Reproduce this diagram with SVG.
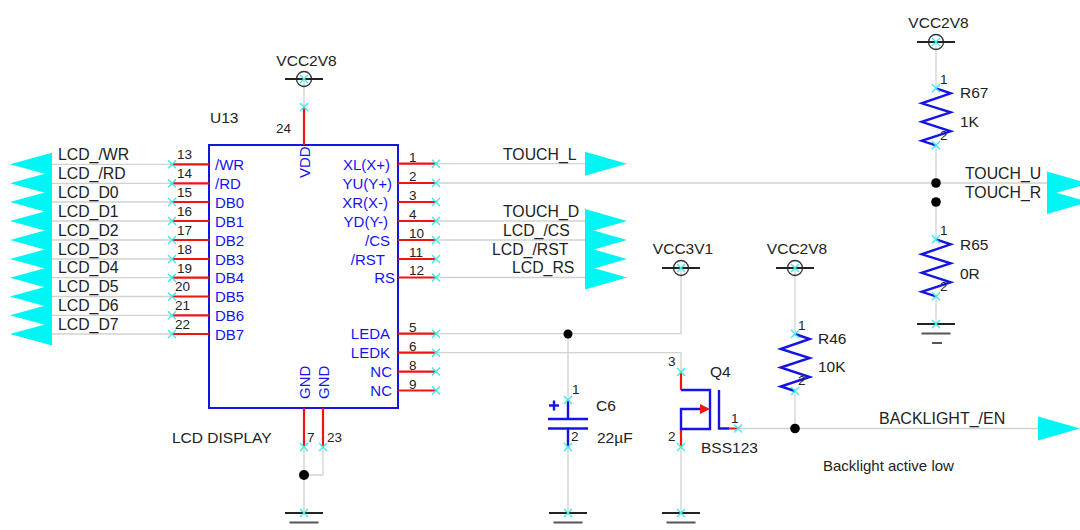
<svg xmlns="http://www.w3.org/2000/svg" width="1080" height="530" viewBox="0 0 1080 530">
<style>
text{font-family:"Liberation Sans",Arial,sans-serif}
.lb{font-size:15.800px;fill:#222}
.t{font-size:15.500px;fill:#222}
.n{font-size:13.500px;fill:#222}
.b{font-size:15px;fill:#1414f0}
.e{text-anchor:end}
.m{text-anchor:middle}
.net{fill:none;stroke:#d2d2d2;stroke-width:1.300}
.pin{fill:none;stroke:#f01414;stroke-width:2.200}
.sym{fill:none;stroke:#1414e6;stroke-width:2.400}
.blk{fill:none;stroke:#222;stroke-width:2}
.gr2{fill:none;stroke:#555;stroke-width:2}
.jn{fill:#000}
.fl{fill:#00f5f5}
</style>
<defs>
<path id="x" d="M-4-4L4 4M-4 4L4-4" fill="none" stroke="#40e8e8" stroke-width="1.400"/>
<polygon id="fll" class="fl" points="10,0 52,-11.500 52,11.500"/>
<polygon id="flr" class="fl" points="0,-12 42,0 0,12"/>
<path id="res" class="sym" d="M0 0L14.700 5L-14.300 15L14.700 24L-14.300 33.500L14.700 43L-14.300 52.500L0 57"/>
<g id="vcc"><circle r="7.500" fill="none" stroke="#333" stroke-width="1.300"/><path class="blk" d="M-19 0H19"/><use href="#x"/></g>
<g id="gnd"><path class="blk" d="M-19 0H19"/><path class="gr2" d="M-14.500 9.500H14.500"/><use href="#x"/></g>
</defs>

<g id="connectors">
<path class="net" d="M52 164.300H172M52 183.300H172M52 202H172M52 221H172M52 240H172M52 259H172M52 277.700H172M52 296.500H172M52 315.300H172M52 334H172"/>
<path class="net" d="M436 163.700H585M436 183H936M436 221H585M436 240H585M436 277.500H585"/>
<path class="net" d="M436 333.700H681V268M436 352.700H681V372M568 334V400M568 447V513M681 447V513"/>
<path class="net" d="M795 268V334M795 391V428.500M738 428.500H1038"/>
<path class="net" d="M936 42V88M936 145V183M936 183H1047M936 202V239M936 296V324"/>
<path class="net" d="M304 79V107M304 447V513M323 447V475H304"/>
<circle class="jn" cx="568" cy="334" r="4.500"/>
<circle class="jn" cx="795" cy="428.500" r="4.800"/>
<circle class="jn" cx="936" cy="183" r="4.800"/>
<circle class="jn" cx="936" cy="202" r="4.800"/>
<circle class="jn" cx="304" cy="475" r="5"/>
</g>

<g id="flags-left">
<use href="#fll" y="164.300"/><use href="#fll" y="183.300"/><use href="#fll" y="202"/><use href="#fll" y="221"/><use href="#fll" y="240"/><use href="#fll" y="259"/><use href="#fll" y="277.700"/><use href="#fll" y="296.500"/><use href="#fll" y="315.300"/><use href="#fll" y="334"/>
<text class="lb" x="58" y="160">LCD_/WR</text>
<text class="lb" x="58" y="179">LCD_/RD</text>
<text class="lb" x="58" y="198">LCD_D0</text>
<text class="lb" x="58" y="216.500">LCD_D1</text>
<text class="lb" x="58" y="235.500">LCD_D2</text>
<text class="lb" x="58" y="254.500">LCD_D3</text>
<text class="lb" x="58" y="273">LCD_D4</text>
<text class="lb" x="58" y="292">LCD_D5</text>
<text class="lb" x="58" y="311">LCD_D6</text>
<text class="lb" x="58" y="330">LCD_D7</text>
</g>

<g id="U13">
<rect x="209" y="145" width="189" height="263" fill="none" stroke="#1414e6" stroke-width="2"/>
<path class="pin" d="M172 164.300H209M172 183.300H209M172 202H209M172 221H209M172 240H209M172 259H209M172 277.700H209M172 296.500H209M172 315.300H209M172 334H209"/>
<path class="pin" d="M398 163.700H436M398 183H436M398 202H436M398 221H436M398 240H436M398 259H436M398 277.500H436M398 333.700H436M398 352.700H436M398 371.600H436M398 390.500H436"/>
<path class="pin" d="M304 107V145M304 408V447M323 408V447"/>
<use href="#x" x="172" y="164.300"/><use href="#x" x="172" y="183.300"/><use href="#x" x="172" y="202"/><use href="#x" x="172" y="221"/><use href="#x" x="172" y="240"/><use href="#x" x="172" y="259"/><use href="#x" x="172" y="277.700"/><use href="#x" x="172" y="296.500"/><use href="#x" x="172" y="315.300"/><use href="#x" x="172" y="334"/>
<use href="#x" x="436" y="163.700"/><use href="#x" x="436" y="183"/><use href="#x" x="436" y="202"/><use href="#x" x="436" y="221"/><use href="#x" x="436" y="240"/><use href="#x" x="436" y="259"/><use href="#x" x="436" y="277.500"/><use href="#x" x="436" y="333.700"/><use href="#x" x="436" y="352.700"/><use href="#x" x="436" y="371.600"/><use href="#x" x="436" y="390.500"/>
<use href="#x" x="304" y="107"/><use href="#x" x="304" y="447"/><use href="#x" x="323" y="447"/>
<text class="t" x="210" y="123">U13</text>
<text class="n" x="276" y="133">24</text>
<text class="n" x="177" y="159">13</text><text class="n" x="177" y="178">14</text><text class="n" x="177" y="197">15</text><text class="n" x="177" y="216">16</text><text class="n" x="177" y="234.500">17</text><text class="n" x="177" y="254">18</text><text class="n" x="177" y="272.500">19</text><text class="n" x="175" y="291">20</text><text class="n" x="175" y="310">21</text><text class="n" x="175" y="329">22</text>
<text class="n" x="409" y="162">1</text><text class="n" x="409" y="181">2</text><text class="n" x="409" y="200">3</text><text class="n" x="409" y="219">4</text><text class="n" x="409" y="238">10</text><text class="n" x="409" y="257">11</text><text class="n" x="409" y="275">12</text><text class="n" x="409" y="332">5</text><text class="n" x="409" y="351">6</text><text class="n" x="409" y="370">8</text><text class="n" x="409" y="389">9</text>
<text class="n" x="307" y="442">7</text><text class="n" x="327" y="442">23</text>
<text class="b" x="215" y="170">/WR</text><text class="b" x="215" y="189">/RD</text><text class="b" x="215" y="208">DB0</text><text class="b" x="215" y="226.500">DB1</text><text class="b" x="215" y="245.500">DB2</text><text class="b" x="215" y="264.500">DB3</text><text class="b" x="215" y="283">DB4</text><text class="b" x="215" y="302">DB5</text><text class="b" x="215" y="321">DB6</text><text class="b" x="215" y="340">DB7</text>
<text class="b e" x="390" y="170">XL(X+)</text><text class="b e" x="392" y="189">YU(Y+)</text><text class="b e" x="388" y="208">XR(X-)</text><text class="b e" x="388" y="226.500">YD(Y-)</text><text class="b e" x="390" y="245.500">/CS</text><text class="b e" x="385" y="264.500">/RST</text><text class="b e" x="395" y="283">RS</text><text class="b e" x="390" y="339">LEDA</text><text class="b e" x="390" y="358">LEDK</text><text class="b e" x="392" y="377">NC</text><text class="b e" x="392" y="396">NC</text>
<text class="b" transform="translate(310 178) rotate(-90)">VDD</text>
<text class="b" transform="translate(310 399) rotate(-90)">GND</text>
<text class="b" transform="translate(329 399) rotate(-90)">GND</text>
<text class="t" x="172" y="443">LCD DISPLAY</text>
</g>

<g id="flags-right">
<use href="#flr" x="585" y="163.700"/><use href="#flr" x="585" y="221"/><use href="#flr" x="585" y="240"/><use href="#flr" x="585" y="259"/><use href="#flr" x="585" y="277.500"/>
<text class="lb" x="503" y="160">TOUCH_L</text>
<text class="lb" x="503" y="216.500">TOUCH_D</text>
<text class="lb" x="503" y="235.500">LCD_/CS</text>
<text class="lb" x="492" y="254.500">LCD_/RST</text>
<text class="lb" x="512" y="273">LCD_RS</text>
</g>

<g id="flags-touch">
<use href="#flr" x="1047" y="183.500"/><use href="#flr" x="1047" y="202"/>
<text class="lb" x="965" y="179">TOUCH_U</text>
<text class="lb" x="965" y="198">TOUCH_R</text>
</g>

<g id="VCC-U13"><use href="#vcc" x="304" y="79"/><text class="t m" x="306.500" y="66">VCC2V8</text></g>
<g id="VCC-R67"><use href="#vcc" x="936" y="42"/><text class="t m" x="938.500" y="28">VCC2V8</text></g>
<g id="VCC-LED"><use href="#vcc" x="681" y="268"/><text class="t m" x="683" y="254">VCC3V1</text></g>
<g id="VCC-R46"><use href="#vcc" x="795" y="268"/><text class="t m" x="797" y="254">VCC2V8</text></g>

<g id="GND-U13"><use href="#gnd" x="304" y="513"/></g>
<g id="GND-C6"><use href="#gnd" x="568" y="513"/></g>
<g id="GND-Q4"><use href="#gnd" x="681" y="513"/></g>
<g id="GND-R65"><use href="#gnd" x="936" y="324"/><path class="gr2" d="M932 343H942"/></g>

<g id="R67">
<use href="#res" x="936" y="88.300"/><use href="#x" x="936" y="88.300"/><use href="#x" x="936" y="145.300"/>
<text class="n" x="940" y="84">1</text><text class="n" x="940" y="140">2</text>
<text class="t" x="960" y="98">R67</text><text class="t" x="960" y="127">1K</text>
</g>
<g id="R65">
<use href="#res" x="936" y="239.300"/><use href="#x" x="936" y="239.300"/><use href="#x" x="936" y="296.300"/>
<text class="n" x="940" y="235">1</text><text class="n" x="940" y="291">2</text>
<text class="t" x="960" y="250">R65</text><text class="t" x="960" y="279">0R</text>
</g>
<g id="R46">
<use href="#res" x="795" y="334"/><use href="#x" x="795" y="334"/><use href="#x" x="795" y="391"/>
<text class="n" x="798" y="330">1</text><text class="n" x="798" y="385">2</text>
<text class="t" x="818" y="344">R46</text><text class="t" x="818" y="372">10K</text>
</g>

<g id="C6">
<path class="sym" d="M568 400V419M548 419H588M548 428.500H588M568 428.500V447M549 405.500H559M554 400.500V410.500"/>
<use href="#x" x="568" y="400"/><use href="#x" x="568" y="447"/>
<text class="n" x="572" y="394">1</text><text class="n" x="571" y="441">2</text>
<text class="t" x="596" y="411">C6</text><text class="t" x="597" y="443">22µF</text>
</g>

<g id="Q4">
<path class="pin" d="M681 372V390M681 429V447M729 428.500H738"/>
<path class="sym" d="M681 390H710V429H681V409H700M719 390V428.500H729"/>
<polygon points="700,404 710,409 700,414" fill="#f01414"/>
<use href="#x" x="681" y="372"/><use href="#x" x="681" y="447"/><use href="#x" x="738" y="428.500"/>
<text class="n" x="668" y="366">3</text><text class="n" x="668" y="441">2</text><text class="n" x="731" y="423">1</text>
<text class="t" x="710" y="377">Q4</text><text class="t" x="701" y="453">BSS123</text>
</g>

<g id="backlight">
<use href="#flr" x="1038" y="428.500"/>
<text class="t" x="879" y="424" style="font-size:16px">BACKLIGHT_/EN</text>
<text class="t" x="823" y="471" style="font-size:15px">Backlight active low</text>
</g>
</svg>
